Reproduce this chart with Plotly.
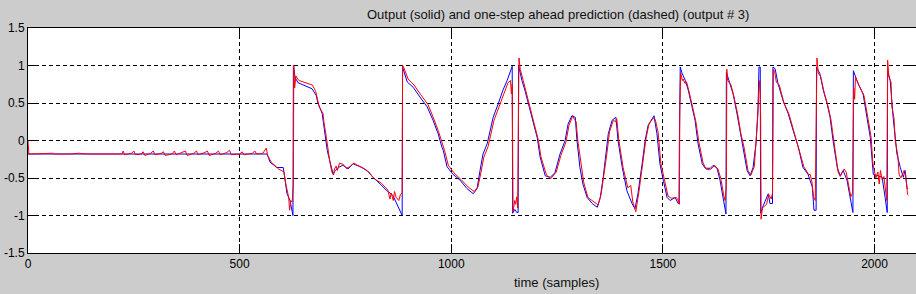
import plotly.graph_objects as go

# Output (solid, blue): sample index and value
out_t = [0, 565, 572, 588, 603, 607, 612, 619, 626, 627, 631, 638, 655, 671, 681, 685, 695, 702, 707, 709,
         714, 721, 726, 733, 744, 756, 768, 785, 801, 815, 832, 848, 862, 872, 879, 884, 885, 886, 896, 910,
         926, 943, 957, 969, 978, 981, 990, 1004, 1021, 1037, 1052, 1061, 1068, 1075, 1085, 1092, 1099, 1111,
         1122, 1132, 1139, 1144, 1145, 1150, 1155, 1158, 1159, 1162, 1167, 1174, 1182, 1193, 1203, 1210, 1222,
         1234, 1245, 1257, 1269, 1276, 1285, 1293, 1297, 1304, 1311, 1321, 1333, 1345, 1352, 1359, 1366, 1371,
         1380, 1389, 1394, 1404, 1415, 1427, 1434, 1441, 1451, 1458, 1465, 1475, 1479, 1486, 1493, 1501, 1510,
         1517, 1529, 1536, 1538, 1539, 1541, 1545, 1553, 1560, 1569, 1576, 1583, 1593, 1600, 1612, 1619, 1628,
         1635, 1642, 1649, 1650, 1659, 1666, 1675, 1682, 1690, 1699, 1706, 1713, 1720, 1725, 1727, 1730, 1731,
         1737, 1749, 1753, 1759, 1760, 1765, 1772, 1784, 1796, 1808, 1820, 1831, 1843, 1853, 1857, 1862, 1863,
         1871, 1879, 1888, 1895, 1902, 1912, 1919, 1926, 1935, 1942, 1949, 1950, 1961, 1973, 1983, 1990, 1997,
         2006, 2018, 2025, 2030, 2031, 2037, 2044, 2053, 2061, 2068, 2072, 2075, 2077, 2079]
out_y = [-0.18, -0.18, -0.29, -0.36, -0.36, -0.49, -0.71, -0.80, -1.0, 1.0, 0.84, 0.77, 0.73, 0.69, 0.60, 0.50, 0.36, 0.04, -0.13, -0.18,
         -0.31, -0.45, -0.40, -0.36, -0.33, -0.38, -0.31, -0.35, -0.40, -0.49, -0.58, -0.67, -0.73, -0.85, -0.93, -1.0, 1.0, 0.96, 0.78, 0.71,
         0.58, 0.45, 0.27, 0.09, -0.09, -0.13, -0.35, -0.45, -0.53, -0.64, -0.71, -0.64, -0.40, -0.18, -0.04, 0.13, 0.31, 0.49,
         0.67, 0.80, 0.93, 0.99, -0.97, -0.92, -0.96, -0.96, 1.0, 0.92, 0.80, 0.67, 0.49, 0.27, 0.04, -0.22, -0.47,
         -0.49, -0.43, -0.18, 0.0, 0.22, 0.33, 0.31, 0.0, -0.36, -0.58, -0.76, -0.84, -0.89, -0.76, -0.49, -0.18, 0.09,
         0.27, 0.31, 0.0, -0.36, -0.67, -0.84, -0.91, -0.71, -0.31, 0.0, 0.20, 0.29, 0.33, 0.09, -0.31, -0.53, -0.76,
         -0.80, -0.76, -0.84, -0.84, 0.0, 0.98, 0.90, 0.80, 0.67, 0.45, 0.27, -0.04, -0.31, -0.37, -0.37, -0.33, -0.37,
         -0.53, -0.76, -0.98, 0.91, 0.76, 0.62, 0.36, 0.13, -0.09, -0.40, -0.47, -0.36, -0.04, 0.45, 0.98, 0.98, -0.97,
         -0.87, -0.71, -0.84, -0.84, 0.98, 0.96, 0.76, 0.53, 0.36, 0.13, -0.09, -0.36, -0.45, -0.62, -0.93, -0.93, 0.98,
         0.89, 0.67, 0.49, 0.31, 0.0, -0.36, -0.47, -0.40, -0.53, -0.76, -0.96, 0.93, 0.76, 0.62, 0.31, 0.04, -0.45,
         -0.47, -0.49, -0.76, -0.96, 0.93, 0.80, 0.31, -0.18, -0.36, -0.49, -0.40, -0.58, -0.64, -0.64]

# One-step ahead prediction (dashed, red)
pred_t = [0, 2, 60, 62, 100, 120, 140, 180, 200, 222, 225, 228, 245, 250, 254, 268, 272, 276, 290, 296, 300, 315, 320, 324,
          340, 346, 350, 365, 372, 376, 392, 398, 402, 418, 424, 428, 444, 450, 454, 470, 476, 480, 500, 506, 510, 530,
          536, 540, 555, 563, 566, 575, 580, 592, 605, 609, 616, 618, 621, 624, 627, 628, 630, 633, 640, 650, 660, 672,
          680, 688, 697, 699, 705, 710, 713, 718, 722, 724, 728, 731, 736, 745, 752, 760, 770, 778, 790, 805, 818, 835,
          850, 855, 858, 863, 866, 870, 876, 880, 884, 885, 888, 898, 912, 928, 945, 958, 970, 980, 984, 993, 1006, 1023,
          1040, 1054, 1063, 1070, 1077, 1087, 1094, 1101, 1113, 1124, 1134, 1140, 1142, 1144, 1146, 1150, 1152, 1155,
          1157, 1160, 1163, 1170, 1177, 1185, 1196, 1206, 1212, 1225, 1235, 1248, 1259, 1271, 1278, 1287, 1291, 1295,
          1299, 1307, 1313, 1323, 1336, 1347, 1354, 1361, 1368, 1374, 1383, 1388, 1391, 1396, 1406, 1417, 1424, 1429,
          1436, 1443, 1453, 1460, 1467, 1477, 1482, 1485, 1489, 1495, 1503, 1512, 1520, 1531, 1535, 1538, 1539, 1540,
          1542, 1546, 1548, 1552, 1556, 1562, 1571, 1578, 1585, 1595, 1602, 1610, 1616, 1622, 1630, 1637, 1644, 1647,
          1650, 1651, 1653, 1661, 1668, 1677, 1684, 1692, 1701, 1708, 1716, 1721, 1724, 1726, 1729, 1731, 1732, 1735,
          1740, 1745, 1750, 1756, 1759, 1761, 1764, 1768, 1775, 1786, 1798, 1810, 1818, 1822, 1833, 1845, 1848, 1852,
          1856, 1860, 1863, 1864, 1867, 1873, 1881, 1890, 1897, 1904, 1910, 1914, 1919, 1923, 1928, 1933, 1937, 1944,
          1948, 1951, 1953, 1955, 1963, 1975, 1985, 1992, 1996, 1999, 2003, 2008, 2011, 2014, 2018, 2022, 2027, 2029,
          2031, 2034, 2039, 2041, 2046, 2049, 2055, 2058, 2062, 2066, 2070, 2073, 2076, 2078, 2080]
pred_y = [0.0, -0.18, -0.17, -0.18, -0.18, -0.17, -0.18, -0.18, -0.17, -0.18, -0.14, -0.19, -0.17, -0.14, -0.19, -0.18, -0.15, -0.20, -0.17, -0.14, -0.19, -0.17, -0.15, -0.20,
          -0.18, -0.14, -0.19, -0.16, -0.14, -0.20, -0.17, -0.14, -0.19, -0.16, -0.14, -0.20, -0.17, -0.14, -0.19, -0.16, -0.13, -0.19, -0.18, -0.15, -0.19, -0.17,
          -0.14, -0.18, -0.17, -0.10, -0.20, -0.29, -0.32, -0.38, -0.42, -0.58, -0.76, -0.93, -0.80, -0.82, -0.60, 1.0, 0.70, 0.86, 0.80, 0.78, 0.76, 0.74,
          0.65, 0.45, 0.36, 0.25, 0.04, -0.18, -0.28, -0.42, -0.46, -0.38, -0.34, -0.40, -0.30, -0.32, -0.37, -0.35, -0.30, -0.33, -0.36, -0.42, -0.51, -0.57,
          -0.66, -0.78, -0.70, -0.80, -0.68, -0.76, -0.80, -0.72, -0.70, 1.0, 0.97, 0.82, 0.74, 0.61, 0.48, 0.30, 0.12, -0.06, -0.13, -0.33, -0.43, -0.52,
          -0.62, -0.68, -0.62, -0.43, -0.22, -0.08, 0.10, 0.27, 0.45, 0.62, 0.77, 0.80, 0.62, 0.75, -0.95, -0.80, -0.85, -0.75,
          -0.90, 1.1, 0.95, 0.80, 0.65, 0.46, 0.24, 0.0, -0.22, -0.46, -0.51, -0.42, -0.20, -0.02, 0.20, 0.33, 0.28, 0.25,
          0.0, -0.35, -0.56, -0.76, -0.82, -0.86, -0.72, -0.45, -0.16, 0.12, 0.27, 0.25, 0.29, 0.0, -0.36, -0.63, -0.60, -0.82,
          -0.95, -0.70, -0.28, 0.02, 0.22, 0.30, 0.28, 0.20, 0.10, -0.30, -0.51, -0.74, -0.77, -0.76, -0.78, -0.82, -0.85, 0.40,
          0.90, 0.80, 0.82, 0.76, 0.78, 0.65, 0.43, 0.25, -0.02, -0.30, -0.38, -0.39, -0.37, -0.33, -0.38, -0.51, -0.74, -0.80,
          -0.60, 0.95, 0.80, 0.74, 0.58, 0.34, 0.10, -0.10, -0.40, -0.46, -0.35, 0.0, 0.30, 0.62, 0.80, 0.30, -1.05, -0.90,
          -0.88, -0.85, -0.72, -0.78, -0.70, 0.95, 0.92, 0.78, 0.74, 0.50, 0.35, 0.10, -0.06, -0.12, -0.35, -0.46, -0.45, -0.55,
          -0.75, -0.80, 0.40, 1.1, 0.90, 0.85, 0.64, 0.46, 0.28, -0.02, -0.30, -0.42, -0.48, -0.44, -0.38, -0.42, -0.55, -0.75,
          -0.70, 0.70, 0.55, 0.85, 0.74, 0.60, 0.28, 0.04, -0.30, -0.40, -0.50, -0.42, -0.58, -0.40, -0.52, -0.48, -0.70, -0.80,
          1.07, 0.85, 0.78, 0.45, 0.30, 0.0, -0.20, -0.45, -0.50, -0.45, -0.40, -0.42, -0.66, -0.72, -0.73]

x_ticks = [0, 500, 1000, 1500, 2000]
y_ticks = [-1.5, -1, -0.5, 0, 0.5, 1, 1.5]
y_tick_text = ["-1.5", "-1", "-0.5", "0", "0.5", "1", "1.5"]

title_text = "Output (solid) and one-step ahead prediction (dashed) (output # 3)"
xlabel_text = "time (samples)"

fig = go.Figure()
fig.add_trace(go.Scatter(x=out_t, y=out_y, mode="lines",
                         line=dict(color="#0000ff", width=1), showlegend=False))
fig.add_trace(go.Scatter(x=pred_t, y=pred_y, mode="lines",
                         line=dict(color="#ff0000", width=1), showlegend=False))

font = dict(family="Liberation Sans, Arial, sans-serif", size=12, color="#000000")
label_font = dict(family="Liberation Sans, Arial, sans-serif", size=13, color="#111111")
axis_common = dict(
    showline=True, linecolor="black", linewidth=1, mirror="ticks",
    ticks="inside", ticklen=9, tickcolor="black", tickwidth=1,
    showgrid=True, gridcolor="black", gridwidth=1, griddash="4px,3px",
    zeroline=False, tickfont=font, automargin=False,
)
fig.update_layout(
    width=916, height=294,
    margin=dict(l=28, r=0, t=28, b=41, pad=0),
    paper_bgcolor="#cccccc", plot_bgcolor="#ffffff",
    font=font,
    xaxis=dict(range=[0, 2098], tickvals=x_ticks, ticktext=[str(v) for v in x_ticks], **axis_common),
    yaxis=dict(range=[-1.5, 1.5], tickvals=y_ticks, ticktext=y_tick_text, **axis_common),
    annotations=[
        dict(text=title_text, xref="paper", yref="paper", x=0.597, y=1.062,
             xanchor="center", yanchor="middle", showarrow=False, font=label_font),
        dict(text=xlabel_text, xref="paper", yref="paper", x=0.595, y=-0.133,
             xanchor="center", yanchor="middle", showarrow=False, font=label_font),
    ],
)
fig.write_html("out.html", config={"displayModeBar": False},
               post_script="document.body.style.margin='0';document.body.style.overflow='hidden';")
